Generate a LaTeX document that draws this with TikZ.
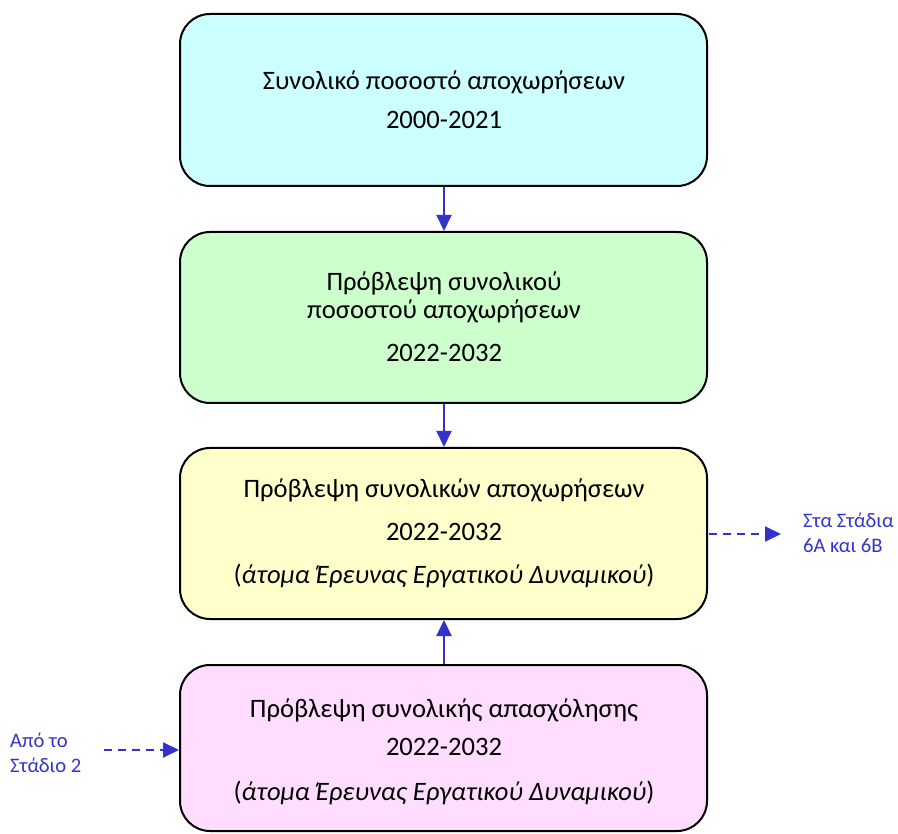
\documentclass[tikz,border=0pt]{standalone}
\usepackage{fontspec}
\setmainfont{Carlito}
\usetikzlibrary{arrows.meta}
\definecolor{bcyan}{HTML}{CCFFFF}
\definecolor{bgreen}{HTML}{CCFFCC}
\definecolor{byellow}{HTML}{FFFFCC}
\definecolor{bpink}{HTML}{FFDDFF}
\definecolor{ablue}{HTML}{3333CC}
\tikzset{
  box/.style={draw=black, line width=2pt, rounded corners=30pt},
  txt/.style={font=\fontsize{26.6}{30}\selectfont, inner sep=0pt, anchor=base},
  side/.style={font=\fontsize{20.6}{24}\selectfont, text=ablue, inner sep=0pt, anchor=base west},
  conn/.style={draw=ablue, line width=2pt, -{Triangle[length=16pt,width=15pt]}},
  dconn/.style={draw=ablue, line width=2pt, dash pattern=on 8pt off 6pt, -{Triangle[length=16pt,width=15pt]}}
}
\begin{document}
\begin{tikzpicture}[x=1pt,y=-1pt]
\useasboundingbox (0,0) rectangle (898,834);
% boxes
\draw[box, fill=bcyan] (180,14) rectangle (707,186);
\draw[box, fill=bgreen] (180,232) rectangle (707,403);
\draw[box, fill=byellow] (180,448) rectangle (707,619);
\draw[box, fill=bpink] (180,665) rectangle (707,831);
\coordinate (b1s) at (444,187);
\coordinate (b2n) at (444,231);
\coordinate (b2s) at (444,404);
\coordinate (b3n) at (444,447);
\coordinate (b3s) at (444,620);
\coordinate (b4n) at (444,664);
\coordinate (b4w) at (179,750);
\coordinate (b3e) at (709,534);
% texts
\node[txt] (t1a) at (444,89.5) {Συνολικό ποσοστό αποχωρήσεων};
\node[txt] (t1b) at (444,128.5) {2000-2021};
\node[txt] (t2a) at (444,290.5) {Πρόβλεψη συνολικού};
\node[txt] (t2b) at (444,319) {ποσοστού αποχωρήσεων};
\node[txt] (t2c) at (444,362) {2022-2032};
\node[txt] (t3a) at (444,498) {Πρόβλεψη συνολικών αποχωρήσεων};
\node[txt] (t3b) at (444,540) {2022-2032};
\node[txt] (t3c) at (444,583.5) {(\textit{άτομα Έρευνας Εργατικού Δυναμικού})};
\node[txt] (t4a) at (444,717) {Πρόβλεψη συνολικής απασχόλησης};
\node[txt] (t4b) at (444,755.5) {2022-2032};
\node[txt] (t4c) at (444,800.5) {(\textit{άτομα Έρευνας Εργατικού Δυναμικού})};
% side labels
\node[side] (l1) at (10,747) {Από το};
\node[side] (l2) at (10,772) {Στάδιο 2};
\node[side] (r1) at (803,527.5) {Στα Στάδια};
\node[side] (r2) at (803,553) {6Α και 6Β};
\coordinate (ls) at (104,750);
\coordinate (re) at (781,534);
% connectors
\draw[conn] (b1s) -- (b2n);
\draw[conn] (b2s) -- (b3n);
\draw[conn] (b4n) -- (b3s);
\draw[dconn] (ls) -- (b4w);
\draw[dconn] (b3e) -- (re);
\end{tikzpicture}
\end{document}
